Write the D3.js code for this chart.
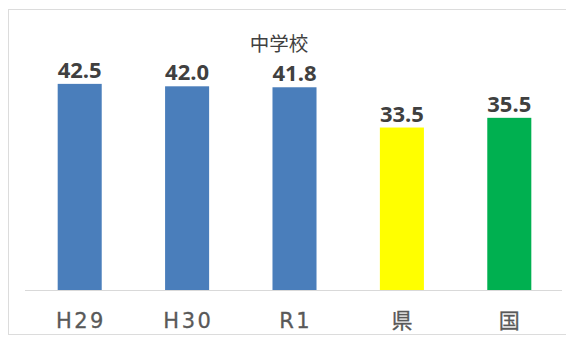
<!DOCTYPE html>
<html>
<head>
<meta charset="utf-8">
<script src="https://cdn.jsdelivr.net/npm/d3@7"></script>
<style>
  html, body { margin: 0; padding: 0; background: #ffffff; }
  svg { display: block; }
</style>
</head>
<body>
<svg id="chart" width="566" height="343"></svg>
<script>
// Chart data
const categories = ["H29", "H30", "R1", "県", "国"];
const values = [42.5, 42.0, 41.8, 33.5, 35.5];
const barColors = ["#4a7ebb", "#4a7ebb", "#4a7ebb", "#ffff00", "#00b050"];
const chartTitle = "中学校";

const svg = d3.select("#chart");

// Outer frame
svg.append("rect")
  .attr("x", 8.5).attr("y", 9.5)
  .attr("width", 558).attr("height", 325)
  .attr("fill", "#ffffff")
  .attr("stroke", "#dcdcdc")
  .attr("stroke-width", 1);

const x = d3.scaleBand()
  .domain(categories)
  .range([26, 563])
  .paddingInner(0.59)
  .paddingOuter(0.295);

const y = d3.scaleLinear()
  .domain([0, 50])
  .range([290, 47.5]);

// Title
svg.append("text")
  .attr("x", 279).attr("y", 51)
  .attr("text-anchor", "middle")
  .attr("font-family", "'Noto Sans CJK JP', sans-serif")
  .attr("font-size", 19.5)
  .attr("fill", "#404040")
  .text(chartTitle);

// Bars
svg.selectAll("rect.bar")
  .data(categories)
  .join("rect")
  .attr("class", "bar")
  .attr("x", d => x(d))
  .attr("width", x.bandwidth())
  .attr("y", (d, i) => y(values[i]))
  .attr("height", (d, i) => y(0) - y(values[i]))
  .attr("fill", (d, i) => barColors[i]);

// Value labels
svg.selectAll("text.val")
  .data(categories)
  .join("text")
  .attr("class", "val")
  .attr("x", d => x(d) + x.bandwidth() / 2)
  .attr("y", (d, i) => y(values[i]) - 6)
  .attr("text-anchor", "middle")
  .attr("font-family", "'Open Sans', sans-serif")
  .attr("font-weight", "bold")
  .attr("font-size", 22)
  .attr("fill", "#404040")
  .text((d, i) => values[i].toFixed(1));

// Category axis
const axis = svg.append("g")
  .attr("transform", `translate(0,${y(0)})`)
  .call(d3.axisBottom(x).tickSize(0).tickPadding(0));
axis.select(".domain")
  .attr("d", "M25,0.5H562")
  .attr("stroke", "#d9d9d9")
  .attr("stroke-width", 1);
axis.selectAll(".tick text")
  .attr("y", 38)
  .attr("dy", 0)
  .attr("dx", "1.25px")
  .attr("font-family", "'DejaVu Sans', 'Noto Sans CJK JP', sans-serif")
  .attr("font-size", 21)
  .attr("letter-spacing", "2.5px")
  .attr("fill", "#595959")
  .attr("stroke", "#595959")
  .attr("stroke-width", 0.3);
</script>
</body>
</html>
